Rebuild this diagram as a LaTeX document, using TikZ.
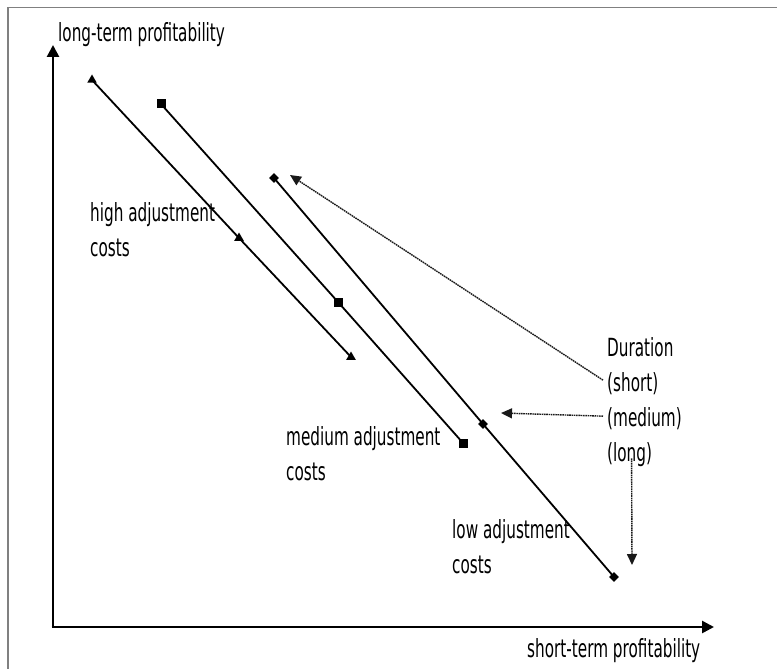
\documentclass[tikz,border=0pt]{standalone}
\usepackage{fontspec}
\setmainfont{DejaVu Sans}[FakeStretch=0.61]
\usetikzlibrary{arrows.meta,shapes.geometric}

\tikzset{
  tri/.style={regular polygon,regular polygon sides=3,fill,inner sep=0pt,minimum size=11pt},
  sq/.style={rectangle,fill,inner sep=0pt,minimum size=9pt},
  dia/.style={diamond,fill,inner sep=0pt,minimum size=10pt},
  curve/.style={line width=1.8pt},
  axis/.style={line width=2.6pt,-{Triangle[length=12pt,width=12pt]}},
  lbl/.style={inner sep=0pt,align=left,font=\fontsize{25}{35}\selectfont},
  dur/.style={dash pattern=on 1.6pt off 0.7pt,line width=1.4pt,black!90,-{Triangle[length=11pt,width=10pt]}},
}

\begin{document}
\begin{tikzpicture}[x=1pt,y=-1pt]
  \useasboundingbox (0,0) rectangle (777,669);
  \draw[gray,line width=1.2pt] (8,669) -- (8,7.5) -- (777,7.5);
  % axes
  \coordinate (o) at (53,627);
  \coordinate (ytop) at (53,45);
  \coordinate (xend) at (714,627);
  \draw[axis] (o) -- (ytop);
  \draw[axis] ([xshift=-1.3pt]o) -- (xend);
  \node[lbl,anchor=north west] (ylab) at (58,22) {long-term profitability};
  \node[lbl,anchor=north west] (xlab) at (527,638) {short-term profitability};
  % high adjustment costs
  \node[tri] (h1) at (92,80) {};
  \node[tri] (h2) at (239,238) {};
  \node[tri] (h3) at (351,357) {};
  \draw[curve] (h1.center) -- (h2.center) -- (h3.center);
  \node[lbl,anchor=north west] (hlab) at (90,202) {high adjustment\\costs};
  % medium adjustment costs
  \node[sq] (m1) at (161,104) {};
  \node[sq] (m2) at (338,302) {};
  \node[sq] (m3) at (463,443) {};
  \draw[curve] (m1.center) -- (m2.center) -- (m3.center);
  \node[lbl,anchor=north west] (mlab) at (286,426) {medium adjustment\\costs};
  % low adjustment costs
  \node[dia] (l1) at (274,178) {};
  \node[dia] (l2) at (483,424) {};
  \node[dia] (l3) at (614,577) {};
  \draw[curve] (l1.center) -- (l2.center) -- (l3.center);
  \node[lbl,anchor=north west] (llab) at (452,519) {low adjustment\\costs};
  % duration
  \node[lbl,anchor=base west] (dur) at (607,356) {Duration};
  \node[lbl,anchor=base west] (short) at (607,391) {(short)};
  \node[lbl,anchor=base west] (medium) at (607,426) {(medium)};
  \node[lbl,anchor=base west] (long) at (607,461) {(long)};
  \coordinate (s1) at (290,175);
  \coordinate (s2) at (501,413);
  \coordinate (s3) at (632,565);
  \draw[dur] ([xshift=-4pt,yshift=3pt]short.west) -- (s1);
  \draw[dur] ([xshift=-4pt,yshift=2pt]medium.west) -- (s2);
  \draw[dur] ([xshift=2pt,yshift=8pt]long.south) -- (s3);
\end{tikzpicture}
\end{document}
